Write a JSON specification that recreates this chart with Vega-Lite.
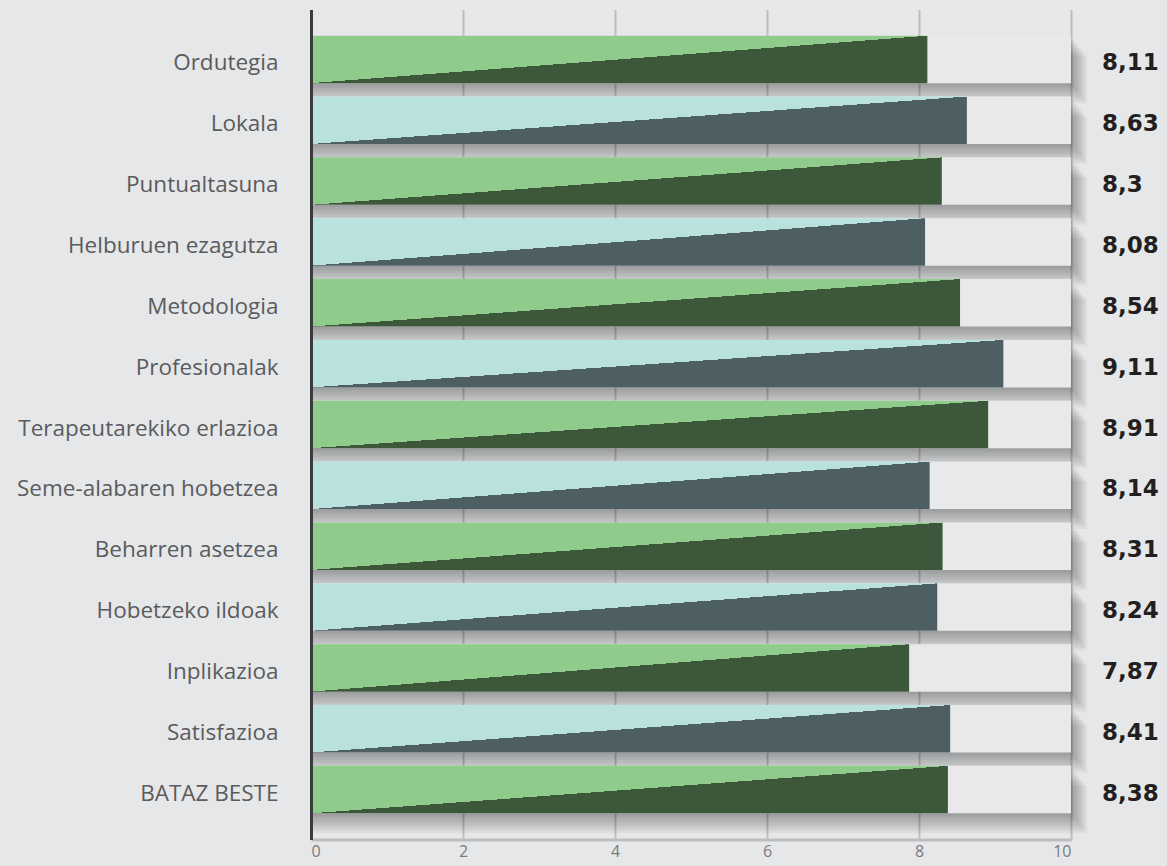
{
  "$schema": "https://vega.github.io/schema/vega-lite/v6.json",
  "width": 760,
  "height": 830,
  "autosize": {"type": "none"},
  "padding": {"left": 311, "top": 9.5, "right": 96, "bottom": 26.5},
  "background": "#e6e7e9",
  "config": {"view": {"stroke": null}},
  "data": {
    "values": [
      {"item": "Ordutegia", "value": 8.11, "label": "8,11", "serie": 1},
      {"item": "Lokala", "value": 8.63, "label": "8,63", "serie": 2},
      {"item": "Puntualtasuna", "value": 8.3, "label": "8,3", "serie": 1},
      {"item": "Helburuen ezagutza", "value": 8.08, "label": "8,08", "serie": 2},
      {"item": "Metodologia", "value": 8.54, "label": "8,54", "serie": 1},
      {"item": "Profesionalak", "value": 9.11, "label": "9,11", "serie": 2},
      {"item": "Terapeutarekiko erlazioa", "value": 8.91, "label": "8,91", "serie": 1},
      {"item": "Seme-alabaren hobetzea", "value": 8.14, "label": "8,14", "serie": 2},
      {"item": "Beharren asetzea", "value": 8.31, "label": "8,31", "serie": 1},
      {"item": "Hobetzeko ildoak", "value": 8.24, "label": "8,24", "serie": 2},
      {"item": "Inplikazioa", "value": 7.87, "label": "7,87", "serie": 1},
      {"item": "Satisfazioa", "value": 8.41, "label": "8,41", "serie": 2},
      {"item": "BATAZ BESTE", "value": 8.38, "label": "8,38", "serie": 1}
    ]
  },
  "encoding": {
    "y": {
      "field": "item",
      "type": "nominal",
      "sort": null,
      "scale": {"paddingInner": 0.22, "paddingOuter": 0.43},
      "axis": {
        "title": null,
        "ticks": false,
        "domainColor": "#3c3c3e",
        "domainWidth": 3,
        "labelPadding": 33,
        "labelOffset": 4,
        "labelLimit": 400,
        "labelFont": "Open Sans",
        "labelFontSize": 22.5,
        "labelFontWeight": 400,
        "labelColor": "#5a5b5d",
        "zindex": 1
      }
    }
  },
  "layer": [
    {"mark": {"type": "bar", "color": "#000000", "opacity": 0.045, "x2Offset": 5.5, "xOffset": 2, "yOffset": 2.5},
      "encoding": {"x": {"datum": 10, "type": "quantitative", "scale": {"domain": [0, 10], "nice": false},
        "axis": {"values": [0, 2, 4, 6, 8, 10], "format": "d", "title": null, "grid": true, "gridColor": "#bdbdc0", "gridWidth": 2, "ticks": false, "domainColor": "#bdbdc0", "domainWidth": 3, "labelFont": "Open Sans", "labelFontSize": 16, "labelColor": "#7a7a7c", "labelPadding": 4, "zindex": 0}}}},
    {"mark": {"type": "bar", "color": "#000000", "opacity": 0.045, "x2Offset": 7, "xOffset": 4, "yOffset": 5}, "encoding": {"x": {"datum": 10, "type": "quantitative"}}},
    {"mark": {"type": "bar", "color": "#000000", "opacity": 0.045, "x2Offset": 8.5, "xOffset": 6, "yOffset": 7.5}, "encoding": {"x": {"datum": 10, "type": "quantitative"}}},
    {"mark": {"type": "bar", "color": "#000000", "opacity": 0.045, "x2Offset": 10, "xOffset": 8, "yOffset": 10}, "encoding": {"x": {"datum": 10, "type": "quantitative"}}},
    {"mark": {"type": "bar", "color": "#000000", "opacity": 0.045, "x2Offset": 11.5, "xOffset": 10, "yOffset": 12.5}, "encoding": {"x": {"datum": 10, "type": "quantitative"}}},
    {"mark": {"type": "bar", "color": "#000000", "opacity": 0.045, "x2Offset": 13, "xOffset": 12, "yOffset": 15}, "encoding": {"x": {"datum": 10, "type": "quantitative"}}},
    {"mark": {"type": "bar", "color": "#000000", "opacity": 0.045, "x2Offset": 14.5, "xOffset": 14, "yOffset": 17.5}, "encoding": {"x": {"datum": 10, "type": "quantitative"}}},
    {"mark": {"type": "bar", "color": "#000000", "opacity": 0.045, "x2Offset": 16, "xOffset": 16, "yOffset": 20}, "encoding": {"x": {"datum": 10, "type": "quantitative"}}},
    {"mark": {"type": "bar", "color": "#e9e9eb"}, "encoding": {"x": {"datum": 10, "type": "quantitative"}}},
    {
      "transform": [{"filter": "datum.serie == 1"}],
      "mark": {
        "type": "bar",
        "fill": {
          "gradient": "linear", "x1": 0, "y1": 0, "x2": 1, "y2": 1,
          "stops": [
            {"offset": 0, "color": "#8fcb8a"},
            {"offset": 0.5, "color": "#8fcb8a"},
            {"offset": 0.5, "color": "#3d573a"},
            {"offset": 1, "color": "#3d573a"}
          ]
        }
      },
      "encoding": {"x": {"field": "value", "type": "quantitative"}}
    },
    {
      "transform": [{"filter": "datum.serie == 2"}],
      "mark": {
        "type": "bar",
        "fill": {
          "gradient": "linear", "x1": 0, "y1": 0, "x2": 1, "y2": 1,
          "stops": [
            {"offset": 0, "color": "#b9e1de"},
            {"offset": 0.5, "color": "#b9e1de"},
            {"offset": 0.5, "color": "#4e5f63"},
            {"offset": 1, "color": "#4e5f63"}
          ]
        }
      },
      "encoding": {"x": {"field": "value", "type": "quantitative"}}
    },
    {
      "mark": {"type": "text", "align": "left", "baseline": "middle", "dx": 31, "dy": 4, "font": "DejaVu Sans", "fontWeight": "bold", "fontSize": 23, "color": "#231f20"},
      "encoding": {"x": {"datum": 10, "type": "quantitative"}, "text": {"field": "label"}}
    }
  ]
}
